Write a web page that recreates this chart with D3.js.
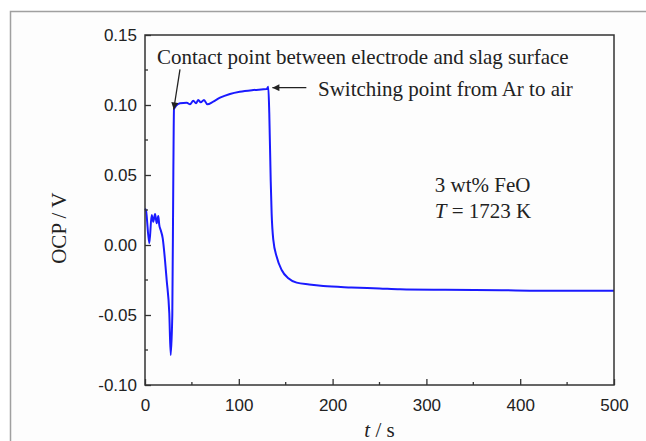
<!DOCTYPE html>
<html>
<head>
<meta charset="utf-8">
<script src="https://cdn.jsdelivr.net/npm/d3@7"></script>
<style>
  body { margin: 0; background: #fff; }
  svg { display: block; }
</style>
</head>
<body>
<div class="main"></div>
<script>
// OCP vs time
var timeVals = [0, 1.1, 4.6, 7.1, 8.8, 10.7, 12.5, 14.2, 15.2, 16.7, 18.9, 21.3, 23.1, 25.9, 27.4,
  29.1, 30.2, 30.9, 33, 37.3, 44.5, 48, 51.5, 54.4, 56.8, 59.4, 62.9, 66.4, 72.8, 80, 90.6, 101,
  115.5, 129.7, 131.4, 132.5, 134, 135, 136.8, 140.4, 145.7, 152.8, 161.7, 175, 190, 220, 250,
  272, 320, 380, 421, 460, 500];
var ocpVals = [0.026, 0.0245, 0.0012, 0.0214, 0.0166, 0.0221, 0.0155, 0.0207, 0.0143, 0.0107, 0.0048,
  -0.0107, -0.025, -0.0488, -0.0786,
  -0.05, 0.05, 0.0969, 0.0993, 0.1012, 0.1016, 0.1005, 0.1031, 0.1012, 0.1036, 0.1019, 0.1036, 0.1005,
  0.1024, 0.1052, 0.1079, 0.1095,
  0.1107, 0.1114, 0.1131, 0.094, 0.0464, 0.0226, 0.0036, -0.0084, -0.0179, -0.0238, -0.0269, -0.0282,
  -0.0293, -0.0303, -0.031, -0.0316, -0.032, -0.0323, -0.0326, -0.0326, -0.0327];

var xTicks = [0, 100, 200, 300, 400, 500];
var yTicks = [-0.10, -0.05, 0.00, 0.05, 0.10, 0.15];
var xMinor = [50, 150, 250, 350, 450];
var yMinor = [-0.075, -0.025, 0.025, 0.075, 0.125];

var data = timeVals.map(function(t, i) {
  return { t: t, v: ocpVals[i] };
});

var fullwidth = 646, fullheight = 441;
var margin = { top: 35, right: 32, bottom: 56, left: 145 };
var width = fullwidth - margin.left - margin.right;
var height = fullheight - margin.top - margin.bottom;

var root = d3.select(".main")
  .append("svg")
  .attr("width", fullwidth)
  .attr("height", fullheight);

// outer frame of the figure (runs off the page right and bottom)
root.append("rect")
  .attr("x", 10.5).attr("y", 11.5)
  .attr("width", 700).attr("height", 500)
  .attr("fill", "#fdfdfd")
  .attr("stroke", "#a0a0a0")
  .attr("stroke-width", 1.5);

var defs = root.append("defs");
defs.append("marker")
  .attr("id", "arrow")
  .attr("viewBox", "0 0 10 10")
  .attr("refX", 10).attr("refY", 5)
  .attr("markerWidth", 10).attr("markerHeight", 7)
  .attr("markerUnits", "userSpaceOnUse")
  .attr("orient", "auto")
  .append("path")
  .attr("d", "M0,0 L10,5 L0,10 z")
  .attr("fill", "#222");

var svg = root.append("g")
  .attr("transform", "translate(" + margin.left + "," + margin.top + ")");

var x = d3.scaleLinear().domain([0, 500]).range([0, width]);
var y = d3.scaleLinear().domain([-0.10, 0.15]).range([height, 0]);

// data line
svg.append("path")
  .datum(data)
  .attr("fill", "none")
  .attr("stroke", "#1a1aff")
  .attr("stroke-width", 2)
  .attr("stroke-linejoin", "round")
  .attr("d", d3.line()
    .x(function(d) { return x(d.t); })
    .y(function(d) { return y(d.v); })
    .curve(d3.curveMonotoneX));

// axes, ticks pointing inside
var xAxis = svg.append("g")
  .attr("transform", "translate(0," + height + ")")
  .call(d3.axisBottom(x).tickValues(xTicks).tickSizeInner(-6).tickSizeOuter(0).tickPadding(14)
    .tickFormat(d3.format("d")));
xAxis.append("g").selectAll("line")
  .data(xMinor).join("line")
  .attr("x1", function(d) { return x(d); }).attr("x2", function(d) { return x(d); })
  .attr("y1", 0).attr("y2", -3);

var yAxis = svg.append("g")
  .call(d3.axisLeft(y).tickValues(yTicks).tickSizeInner(-6).tickSizeOuter(0).tickPadding(8)
    .tickFormat(d3.format(".2f")));
yAxis.append("g").selectAll("line")
  .data(yMinor).join("line")
  .attr("x1", 0).attr("x2", 3)
  .attr("y1", function(d) { return y(d); }).attr("y2", function(d) { return y(d); });

svg.selectAll(".tick text")
  .style("font-family", "'Liberation Sans', Arial, sans-serif")
  .style("font-size", "17px")
  .attr("fill", "#222");
svg.selectAll(".tick text").filter(function(d) { return d < 0; })
  .text(function(d) { return d3.format(".2f")(d).replace("−", "-"); });
svg.selectAll("line").attr("stroke", "#333").attr("stroke-width", 1.3);

// box frame
svg.append("rect")
  .attr("width", width).attr("height", height)
  .attr("fill", "none")
  .attr("stroke", "#333")
  .attr("stroke-width", 1.5);
svg.selectAll(".domain").remove();

// axis titles
var serif = "'Liberation Serif', 'Times New Roman', serif";
var fs = "21px";
svg.append("text")
  .attr("transform", "translate(-79," + (y(0.012)) + ") rotate(-90)")
  .attr("text-anchor", "middle")
  .style("font-family", serif).style("font-size", fs).attr("fill", "#222")
  .text("OCP / V");

var xt = svg.append("text")
  .attr("x", width / 2).attr("y", height + 52)
  .attr("text-anchor", "middle")
  .style("font-family", serif).style("font-size", fs).attr("fill", "#222");
xt.append("tspan").style("font-style", "italic").text("t");
xt.append("tspan").text(" / s");

// annotations
svg.append("text")
  .attr("x", x(12.8)).attr("y", y(0.1295))
  .style("font-family", serif).style("font-size", fs).attr("fill", "#222")
  .text("Contact point between electrode and slag surface");
svg.append("line")
  .attr("x1", x(37.3)).attr("y1", y(0.1255))
  .attr("x2", x(30.6)).attr("y2", y(0.0968))
  .attr("stroke", "#222").attr("stroke-width", 1.3)
  .attr("marker-end", "url(#arrow)");

svg.append("text")
  .attr("x", x(184.4)).attr("y", y(0.1062))
  .style("font-family", serif).style("font-size", fs).attr("fill", "#222")
  .text("Switching point from Ar to air");
svg.append("line")
  .attr("x1", x(172)).attr("y1", y(0.1124))
  .attr("x2", x(135.8)).attr("y2", y(0.1124))
  .attr("stroke", "#222").attr("stroke-width", 1.3)
  .attr("marker-end", "url(#arrow)");

svg.append("text")
  .attr("x", x(309)).attr("y", y(0.0379))
  .style("font-family", serif).style("font-size", fs).attr("fill", "#222")
  .text("3 wt% FeO");
var tl = svg.append("text")
  .attr("x", x(309)).attr("y", y(0.0193))
  .style("font-family", serif).style("font-size", fs).attr("fill", "#222");
tl.append("tspan").style("font-style", "italic").text("T");
tl.append("tspan").text(" = 1723 K");
</script>
</body>
</html>
